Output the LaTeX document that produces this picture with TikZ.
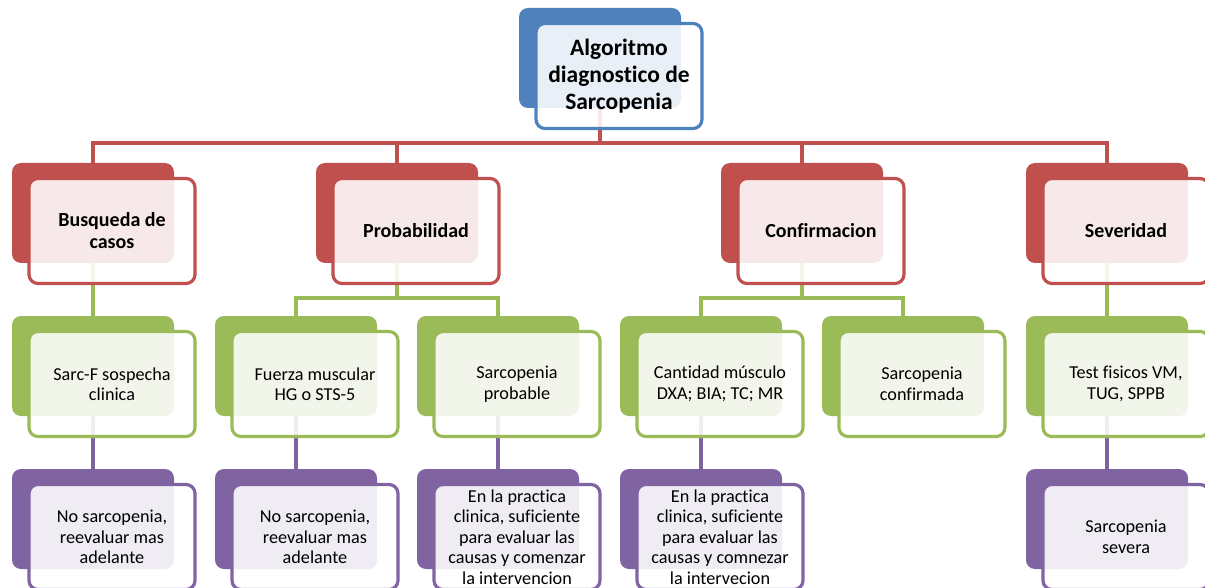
\documentclass[tikz,border=0pt]{standalone}
\usepackage{fontspec}
\setmainfont{Carlito}[Ligatures=NoCommon]
\usetikzlibrary{positioning,backgrounds}
\definecolor{obblue}{RGB}{79,129,189}
\definecolor{obred}{RGB}{192,80,77}
\definecolor{obgreen}{RGB}{155,187,89}
\definecolor{obpurple}{RGB}{128,100,162}
\tikzset{
	backbox/.style={fill=#1, draw=none, rounded corners=9pt, inner sep=0pt,
		minimum width=162pt, minimum height=100pt},
	frontbox/.style={draw=#1, line width=3.2pt, fill=white, fill opacity=0.88,
		text opacity=1, rounded corners=9pt, inner sep=1pt, align=center,
		minimum width=166pt, minimum height=105pt, xshift=19pt, yshift=-18pt},
	toptext/.style={font=\fontsize{23.5}{27}\selectfont\bfseries},
	headtext/.style={font=\fontsize{20}{22}\selectfont\bfseries},
	bodytext/.style={font=\fontsize{18.2}{20.5}\selectfont},
	link/.style={draw=#1, line width=3.3pt},
}

\begin{document}
\begin{tikzpicture}[x=1pt,y=-1pt]
\clip (0,0) rectangle (1205,588);
% back boxes
\node[backbox=obblue] (alg-b) at (600,58) {};
\node[backbox=obred] (busq-b) at (93,213) {};
\node[backbox=obred] (prob-b) at (397,213) {};
\node[backbox=obred] (conf-b) at (802,213) {};
\node[backbox=obred] (sev-b) at (1107,213) {};
\node[backbox=obgreen] (sarcf-b) at (93,366) {};
\node[backbox=obgreen] (fuerza-b) at (296,366) {};
\node[backbox=obgreen] (sprob-b) at (498,366) {};
\node[backbox=obgreen] (cant-b) at (701,366) {};
\node[backbox=obgreen] (sconf-b) at (903,366) {};
\node[backbox=obgreen] (test-b) at (1107,366) {};
\node[backbox=obpurple] (nosar1-b) at (93,519) {};
\node[backbox=obpurple] (nosar2-b) at (296,519) {};
\node[backbox=obpurple] (pract1-b) at (498,519) {};
\node[backbox=obpurple] (pract2-b) at (701,519) {};
\node[backbox=obpurple] (sever-b) at (1107,519) {};
% connectors, behind everything
\begin{scope}[on background layer]
\coordinate (rbus) at (600,143);
\foreach \n in {busq,prob,conf,sev}
	\draw[link=obred] (alg-b.center) -- (rbus) -| (\n-b.center);
\draw[link=obgreen] (busq-b.center) -- (sarcf-b.center);
\draw[link=obgreen] (prob-b.center) -- ++(0,85) -| (fuerza-b.center);
\draw[link=obgreen] (prob-b.center) -- ++(0,85) -| (sprob-b.center);
\draw[link=obgreen] (conf-b.center) -- ++(0,85) -| (cant-b.center);
\draw[link=obgreen] (conf-b.center) -- ++(0,85) -| (sconf-b.center);
\draw[link=obgreen] (sev-b.center) -- (test-b.center);
\draw[link=obpurple] (sarcf-b.center) -- (nosar1-b.center);
\draw[link=obpurple] (fuerza-b.center) -- (nosar2-b.center);
\draw[link=obpurple] (sprob-b.center) -- (pract1-b.center);
\draw[link=obpurple] (cant-b.center) -- (pract2-b.center);
\draw[link=obpurple] (test-b.center) -- (sever-b.center);
\end{scope}
% front boxes
\node[frontbox=obblue, toptext] (alg) at (alg-b) {Algoritmo\\diagnostico de\\Sarcopenia};
\node[frontbox=obred, headtext] (busq) at (busq-b) {Busqueda de\\casos};
\node[frontbox=obred, headtext] (prob) at (prob-b) {Probabilidad};
\node[frontbox=obred, headtext] (conf) at (conf-b) {Confirmacion};
\node[frontbox=obred, headtext] (sev) at (sev-b) {Severidad};
\node[frontbox=obgreen, bodytext] (sarcf) at (sarcf-b) {Sarc-F sospecha\\clinica};
\node[frontbox=obgreen, bodytext] (fuerza) at (fuerza-b) {Fuerza muscular\\HG o STS-5};
\node[frontbox=obgreen, bodytext] (sprob) at (sprob-b) {Sarcopenia\\probable};
\node[frontbox=obgreen, bodytext] (cant) at (cant-b) {Cantidad músculo\\DXA; BIA; TC; MR};
\node[frontbox=obgreen, bodytext] (sconf) at (sconf-b) {Sarcopenia\\confirmada};
\node[frontbox=obgreen, bodytext] (test) at (test-b) {Test fisicos VM,\\TUG, SPPB};
\node[frontbox=obpurple, bodytext] (nosar1) at (nosar1-b) {No sarcopenia,\\reevaluar mas\\adelante};
\node[frontbox=obpurple, bodytext] (nosar2) at (nosar2-b) {No sarcopenia,\\reevaluar mas\\adelante};
\node[frontbox=obpurple, bodytext] (pract1) at (pract1-b) {En la practica\\clinica, suficiente\\para evaluar las\\causas y comenzar\\la intervencion};
\node[frontbox=obpurple, bodytext] (pract2) at (pract2-b) {En la practica\\clinica, suficiente\\para evaluar las\\causas y comnezar\\la intervecion};
\node[frontbox=obpurple, bodytext] (sever) at (sever-b) {Sarcopenia\\severa};
\end{tikzpicture}
\end{document}
